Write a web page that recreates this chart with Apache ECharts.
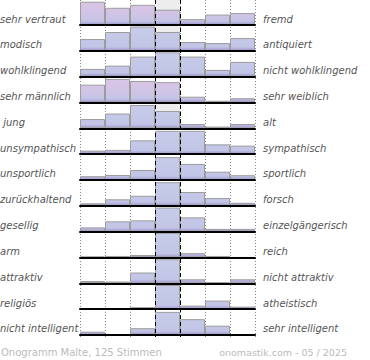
<!DOCTYPE html>
<html>
<head>
<meta charset="utf-8">
<script src="https://cdn.jsdelivr.net/npm/echarts@6/dist/echarts.min.js"></script>
<style>
html,body{margin:0;padding:0;background:#fff;}
#chart{width:370px;height:360px;}
</style>
</head>
<body>
<div id="chart"></div>
<script>
// ---- data ----
const leftLabels = ['sehr vertraut','modisch','wohlklingend','sehr männlich',' jung','unsympathisch','unsportlich','zurückhaltend','gesellig','arm','attraktiv','religiös','nicht intelligent'];
const rightLabels = ['fremd','antiquiert','nicht wohlklingend','sehr weiblich','alt','sympathisch','sportlich','forsch','einzelgängerisch','reich','nicht attraktiv','atheistisch','sehr intelligent'];
const scaleSteps = ['1','2','3','4','5','6','7'];
const vertrautFremd = [96, 71, 83, 63, 24, 43, 49];
const modischAntiquiert = [47, 75, 97, 75, 35, 31, 51];
const wohlklingend = [31, 44, 80, 97, 80, 27, 59];
const maennlichWeiblich = [71, 94, 86, 81, 23, 7, 17];
const jungAlt = [37, 59, 93, 69, 17, 7, 17];
const sympathisch = [14, 17, 55, 93, 93, 39, 34];
const sportlich = [15, 20, 40, 91, 64, 33, 19];
const zurueckhaltendForsch = [10, 26, 40, 94, 55, 31, 12];
const geselligEinzelgaenger = [17, 41, 45, 96, 57, 11, 11];
const armReich = [4, 6, 10, 98, 17, 6, 0];
const attraktiv = [9, 7, 43, 96, 16, 4, 16];
const religioesAtheistisch = [4, 0, 8, 96, 14, 34, 10];
const intelligent = [13, 2, 27, 92, 63, 37, 0];
const centerShade = [103, 103, 0, 0, 103, 0, 0, 0, 0, 0, 0, 0, 0];
const footerLeft = 'Onogramm Malte, 125 Stimmen';
const footerRight = 'onomastik.com - 05 / 2025';

const rows = [vertrautFremd, modischAntiquiert, wohlklingend, maennlichWeiblich, jungAlt, sympathisch, sportlich, zurueckhaltendForsch, geselligEinzelgaenger, armReich, attraktiv, religioesAtheistisch, intelligent];

// ---- layout ----
const plotLeft = 80, plotWidth = 175, firstBase = 25, rowH = 25.83;
const pinkRows = [0, 3];
const font = 'DejaVu Sans';

const grid = [], xAxis = [], yAxis = [], series = [], graphic = [];

rows.forEach((vals, i) => {
  const base = firstBase + i * rowH;
  grid.push({left: plotLeft, width: plotWidth, top: base - rowH, height: rowH});
  xAxis.push({type: 'category', gridIndex: i, data: scaleSteps, z: 10,
    axisLine: {show: true, lineStyle: {color: '#000', width: 2}},
    axisTick: {show: false}, axisLabel: {show: false}, splitLine: {show: false}});
  yAxis.push({type: 'value', gridIndex: i, min: 0, max: 103, show: false});
  const pink = pinkRows.indexOf(i) >= 0;
  const grad = new echarts.graphic.LinearGradient(0, base - rowH, 0, base, pink ? [
    {offset: 0, color: '#dcc6e6'}, {offset: 0.55, color: '#d2c4e6'}, {offset: 0.85, color: '#c4c4e6'}, {offset: 1, color: '#9e94cc'}
  ] : [
    {offset: 0, color: '#c8cdea'}, {offset: 0.85, color: '#c2c5e6'}, {offset: 1, color: '#9e94cc'}
  ], true);
  series.push({type: 'bar', xAxisIndex: i, yAxisIndex: i, silent: true, z: 1,
    barCategoryGap: 0, barGap: '-100%',
    data: scaleSteps.map((s, j) => (j === 3 && centerShade[i]) ? centerShade[i] : null),
    itemStyle: {color: '#ededed'}});
  series.push({type: 'bar', xAxisIndex: i, yAxisIndex: i, silent: true, z: 2,
    barCategoryGap: 0, barGap: '-100%', data: vals,
    itemStyle: {color: grad, borderColor: '#9c9c9c', borderWidth: 1}});
  graphic.push({type: 'text', left: 0, top: base - 11, z: 20,
    style: {text: leftLabels[i], font: 'italic 10px "' + font + '"', fill: '#555'}});
  graphic.push({type: 'text', left: 263, top: base - 11, z: 20,
    style: {text: rightLabels[i], font: 'italic 10px "' + font + '"', fill: '#555'}});
});

// vertical guide lines over the whole plot
const gi = rows.length;
const edges = ['0','1','2','3','4','5','6','7'];
grid.push({left: plotLeft, width: plotWidth, top: 0, height: 337});
xAxis.push({type: 'category', gridIndex: gi, data: edges, boundaryGap: false, z: 0,
  axisLine: {show: false}, axisTick: {show: false}, axisLabel: {show: false},
  splitLine: {show: true, interval: 0, lineStyle: {color: '#888', width: 1, type: [1, 2]}}});
xAxis.push({type: 'category', gridIndex: gi, data: edges, boundaryGap: false, z: 12,
  axisLine: {show: false}, axisTick: {show: false}, axisLabel: {show: false},
  splitLine: {show: true, interval: (idx) => idx === 3 || idx === 4, lineStyle: {color: '#000', width: 1, type: [4, 3]}}});
yAxis.push({type: 'value', gridIndex: gi, show: false});

graphic.push({type: 'text', left: 1, top: 347, style: {text: footerLeft, font: '10px "' + font + '"', fill: '#bbb'}});
graphic.push({type: 'text', right: 23, top: 347, style: {text: footerRight, font: '9.5px "' + font + '"', fill: '#bbb'}});

const chart = echarts.init(document.getElementById('chart'), null, {renderer: 'svg'});
chart.setOption({animation: false, grid, xAxis, yAxis, series, graphic});
</script>
</body>
</html>
